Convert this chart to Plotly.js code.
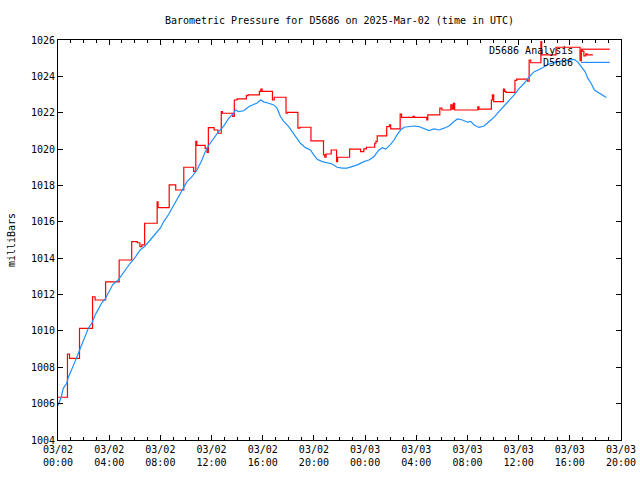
<!DOCTYPE html>
<html>
<head>
<meta charset="utf-8">
<script src="https://cdn.plot.ly/plotly-3.0.1.min.js"></script>
<style>html,body{margin:0;padding:0;background:#fff}#chart{width:640px;height:480px}</style>
</head>
<body>
<div id="chart"></div>
<script>
// Hours since 2025-03-02 00:00 UTC
var analysisHours = [0.00,0.74,0.90,1.68,2.70,2.90,3.72,4.78,5.76,6.20,6.40,6.55,6.77,7.75,7.82,8.69,9.20,9.83,10.60,10.77,10.85,11.50,11.65,11.75,12.20,12.50,12.76,12.85,13.65,13.78,14.00,14.72,14.85,15.74,15.85,15.95,16.76,16.90,17.82,17.95,18.75,18.90,19.77,20.75,20.85,20.95,21.35,21.77,21.85,22.79,23.65,23.90,24.10,24.75,24.85,24.95,25.69,25.90,26.00,26.74,26.85,27.75,27.85,28.82,28.90,29.84,30.00,30.70,30.80,30.90,31.00,32.81,32.90,33.87,33.95,34.05,34.81,34.90,35.00,35.71,35.85,36.70,36.82,36.95,37.74,37.80,38.92,40.80,40.90,41.00,41.10,41.25,41.35,41.80];
var analysisPressure = [1006.35,1008.73,1008.49,1010.14,1011.88,1011.70,1012.70,1013.90,1014.91,1014.85,1014.64,1014.73,1015.92,1017.10,1016.78,1018.03,1017.75,1019.00,1018.77,1020.42,1020.20,1020.04,1019.82,1021.18,1021.05,1020.87,1022.06,1021.97,1021.80,1022.70,1022.76,1022.94,1022.98,1023.17,1023.30,1023.17,1022.70,1022.85,1021.97,1022.02,1021.15,1021.20,1020.45,1019.68,1019.55,1019.73,1019.95,1019.31,1019.55,1020.00,1019.86,1020.01,1020.10,1020.32,1020.42,1020.73,1021.24,1021.33,1021.11,1021.92,1021.74,1021.80,1021.74,1021.60,1021.88,1022.25,1022.15,1022.43,1022.20,1022.52,1022.15,1022.33,1022.20,1022.70,1022.98,1022.61,1023.30,1023.17,1023.12,1023.78,1023.85,1023.73,1024.90,1024.75,1025.91,1025.18,1025.60,1024.86,1025.43,1025.38,1025.13,1025.24,1025.18,1025.18];

var stationHours = [0.00,0.26,0.41,0.68,0.81,1.07,1.33,1.59,1.85,2.11,2.37,2.64,2.90,3.16,3.42,3.68,3.94,4.28,4.70,5.25,5.64,6.03,6.42,6.81,7.20,7.60,7.99,8.25,8.64,9.03,9.42,9.69,10.08,10.47,10.86,11.25,11.51,11.77,12.16,12.55,12.94,13.34,13.73,13.86,14.12,14.51,14.90,15.29,15.60,15.82,16.08,16.47,16.86,17.12,17.38,17.64,18.03,18.30,18.69,18.95,19.34,19.73,19.99,20.25,20.65,21.04,21.43,21.82,22.21,22.60,23.00,23.39,23.91,24.30,24.69,25.08,25.35,25.61,26.00,26.26,26.52,26.78,27.04,27.43,27.82,28.21,28.60,28.99,29.39,29.78,30.17,30.56,30.95,31.21,31.61,32.00,32.26,32.52,32.91,33.30,33.70,34.09,34.48,34.87,35.26,35.65,36.05,36.44,36.83,37.22,37.61,38.00,38.40,38.92,39.30,39.83,40.35,40.61,40.88,41.19,41.40,41.66,41.92,42.31,42.70,42.85];
var stationPressure = [1005.90,1006.38,1006.84,1007.12,1007.45,1007.85,1008.31,1008.77,1009.23,1009.68,1010.14,1010.42,1010.88,1011.20,1011.55,1011.75,1012.10,1012.55,1012.80,1013.35,1013.72,1014.05,1014.45,1014.67,1015.02,1015.33,1015.65,1016.00,1016.40,1016.90,1017.38,1017.72,1018.21,1018.48,1018.85,1019.40,1019.86,1020.20,1020.59,1020.96,1021.25,1021.69,1021.97,1022.15,1022.06,1022.11,1022.33,1022.45,1022.55,1022.70,1022.60,1022.52,1022.43,1022.25,1021.79,1021.52,1021.24,1020.96,1020.59,1020.32,1020.08,1019.95,1019.68,1019.44,1019.31,1019.26,1019.18,1019.00,1018.95,1018.95,1019.04,1019.13,1019.31,1019.40,1019.58,1019.95,1020.08,1020.00,1020.26,1020.50,1020.81,1021.05,1021.20,1021.24,1021.27,1021.24,1021.15,1021.02,1021.11,1021.05,1021.15,1021.27,1021.52,1021.66,1021.60,1021.48,1021.52,1021.33,1021.19,1021.27,1021.52,1021.76,1022.07,1022.37,1022.70,1022.98,1023.34,1023.62,1023.98,1024.26,1024.38,1024.53,1024.68,1024.80,1024.84,1024.86,1024.93,1024.80,1024.53,1024.26,1023.90,1023.62,1023.25,1023.07,1022.89,1022.84];

var tickHours = [0,4,8,12,16,20,24,28,32,36,40,44];
var tickLabels = ["03/02<br>00:00","03/02<br>04:00","03/02<br>08:00","03/02<br>12:00","03/02<br>16:00","03/02<br>20:00","03/03<br>00:00","03/03<br>04:00","03/03<br>08:00","03/03<br>12:00","03/03<br>16:00","03/03<br>20:00"];

var seriesNames = ["D5686 Analysis", "D5686"];
var seriesColors = ["#ff0000", "#1e90ff"];

var FONT = "DejaVu Sans Mono";

var traces = [
  {x: analysisHours, y: analysisPressure, type: "scatter", mode: "lines", name: seriesNames[0],
   line: {color: seriesColors[0], width: 1.2, shape: "hv"}, showlegend: false},
  {x: stationHours, y: stationPressure, type: "scatter", mode: "lines", name: seriesNames[1],
   line: {color: seriesColors[1], width: 1.2}, showlegend: false}
];

var layout = {
  width: 640, height: 480,
  margin: {l: 58, r: 19, t: 40, b: 40},
  paper_bgcolor: "#ffffff", plot_bgcolor: "#ffffff",
  font: {family: FONT, size: 10, color: "#000"},
  title: {text: "Barometric Pressure for D5686 on 2025-Mar-02 (time in UTC)",
          font: {family: FONT, size: 10, color: "#000"},
          x: 0.5, xref: "paper", xanchor: "center", y: 0.958, yref: "container", yanchor: "middle"},
  xaxis: {range: [0, 44], tickvals: tickHours, ticktext: tickLabels,
          showgrid: false, zeroline: false, showline: true, linecolor: "#000", linewidth: 1,
          mirror: "allticks", ticks: "inside", ticklen: 5, tickcolor: "#000", tickwidth: 1,
          minor: {dtick: 1, ticks: "inside", ticklen: 3, tickcolor: "#000", showgrid: false},
          tickfont: {family: FONT, size: 10, color: "#000"}},
  yaxis: {range: [1004, 1026], dtick: 2, tick0: 1004,
          showgrid: false, zeroline: false, showline: true, linecolor: "#000", linewidth: 1,
          mirror: "allticks", ticks: "inside", ticklen: 5, tickcolor: "#000", tickwidth: 1,
          tickfont: {family: FONT, size: 10, color: "#000"},
          title: {text: "milliBars", font: {family: FONT, size: 10, color: "#000"}, standoff: 13}},
  annotations: [
    {text: seriesNames[0], xref: "paper", yref: "paper", x: 0.918, y: 0.975, xanchor: "right", yanchor: "middle",
     showarrow: false, font: {family: FONT, size: 10, color: "#000"}},
    {text: seriesNames[1], xref: "paper", yref: "paper", x: 0.918, y: 0.944, xanchor: "right", yanchor: "middle",
     showarrow: false, font: {family: FONT, size: 10, color: "#000"}}
  ],
  shapes: [
    {type: "line", xref: "paper", yref: "paper", x0: 0.929, x1: 0.980, y0: 0.977, y1: 0.977,
     line: {color: seriesColors[0], width: 1.2}},
    {type: "line", xref: "paper", yref: "paper", x0: 0.929, x1: 0.980, y0: 0.944, y1: 0.944,
     line: {color: seriesColors[1], width: 1.2}}
  ]
};

Plotly.newPlot("chart", traces, layout, {displayModeBar: false, staticPlot: true});
</script>
</body>
</html>
